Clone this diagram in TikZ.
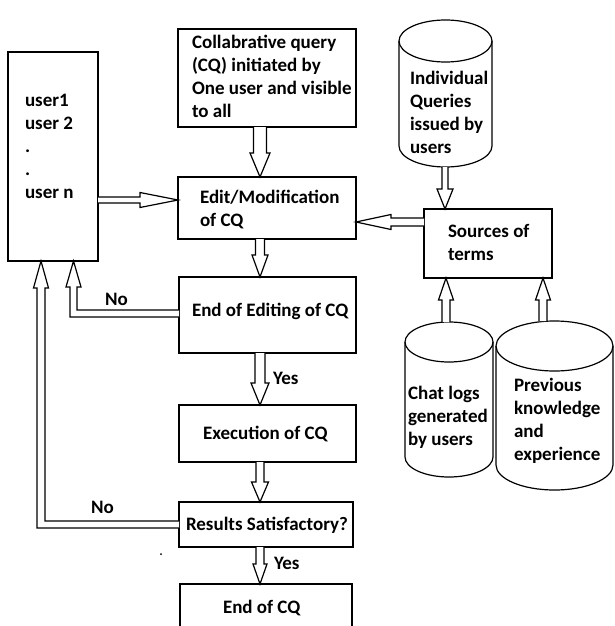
\documentclass[tikz,border=0pt]{standalone}
\usepackage{fontspec}
\setmainfont{Carlito}
\usetikzlibrary{calc}
\newcommand\fs{\fontsize{19}{23}\selectfont\bfseries}
\newcommand\firstl{\rule{0pt}{14pt}}
% block arrow from coordinate #1 to coordinate #2; #3 shaft half width, #4 head half width, #5 head length
\newcommand\barrow[5]{%
  \path ($(#2)!#5!(#1)$) coordinate (hb);
  \draw[arr] ($(#1)!#3!90:(#2)$) -- ($(hb)!#3!-90:(#1)$) -- ($(hb)!#4!-90:(#1)$) -- (#2)
     -- ($(hb)!#4!90:(#1)$) -- ($(hb)!#3!90:(#1)$) -- ($(#1)!#3!-90:(#2)$);
}
\newcommand\cylout[3]{%
  \draw[boxline] ($(#1.north west)+(0,#3)$) -- ($(#1.south west)+(0,-#3)$)
     arc[start angle=180,end angle=360,x radius=#2pt,y radius=#3pt] -- ($(#1.north east)+(0,#3)$);
  \draw[boxline] ($(#1.north)+(0,#3)$) ellipse[x radius=#2pt,y radius=#3pt];
}
\begin{document}
\begin{tikzpicture}[x=1pt,y=-1pt,
  boxline/.style={line width=1.2pt,line join=miter},
  box/.style={draw,boxline,rectangle,inner sep=0pt,outer sep=0pt},
  slot/.style={rectangle,inner sep=0pt,outer sep=0pt},
  arr/.style={draw,line width=1.2pt,line join=miter,fill=white},
  txt/.style={anchor=north west,inner sep=0pt,outer sep=0pt,align=left,font=\fs}]
\useasboundingbox (0,0) rectangle (614,626);

% boxes
\node[box,minimum width=90pt,minimum height=209pt] (users) at (53,156.5) {};
\node[box,minimum width=178pt,minimum height=98pt] (cq) at (267,78) {};
\node[box,minimum width=178pt,minimum height=62pt] (edit) at (267,208) {};
\node[box,minimum width=177pt,minimum height=76pt] (ee) at (267.5,315) {};
\node[box,minimum width=177pt,minimum height=57pt] (exec) at (267.5,433.5) {};
\node[box,minimum width=174pt,minimum height=45pt] (res) at (266,524.5) {};
\node[box,minimum width=172pt,minimum height=56pt] (end) at (266,612) {};
\node[box,minimum width=128pt,minimum height=69pt] (src) at (488,243.5) {};
% cylinders
\node[slot,minimum width=93pt,minimum height=147pt] (iq) at (445.5,93.5) {};
\node[slot,minimum width=88pt,minimum height=155pt] (chat) at (449,399.5) {};
\node[slot,minimum width=117pt,minimum height=169pt] (prev) at (554.5,405.5) {};
\cylout{iq}{46.5}{21}
\cylout{chat}{44}{20}
\cylout{prev}{58.5}{25}

% texts
\node[txt] (tusers) at (25,92) {\firstl user1\\user 2\\.\\.\\user n};
\node[txt] (tcq) at (192,34) {\firstl Collabrative query\\(CQ) initiated by\\One user and visible\\to all};
\node[txt] (tedit) at (200,189) {\firstl Edit/Modification\\of CQ};
\node[txt] (tee) at (192,302) {\firstl End of Editing of CQ};
\node[txt] (texec) at (203,425) {\firstl Execution of CQ};
\node[txt] (tres) at (186,516) {\firstl Results Satisfactory?};
\node[txt] (tend) at (223,599) {\firstl End of CQ};
\node[txt] (tsrc) at (448,223) {\firstl Sources of\\terms};
\node[txt] (tiq) at (410,70) {\firstl Individual\\Queries\\issued by\\users};
\node[txt] (tchat) at (408,385) {\firstl Chat logs\\generated\\by users};
\node[txt] (tprev) at (514,377) {\firstl Previous\\knowledge\\and\\experience};
\node[txt] (yes1) at (273,370) {\firstl Yes};
\node[txt] (yes2) at (274,555) {\firstl Yes};
\node[txt] (no1) at (105,291) {\firstl No};
\node[txt] (no2) at (91,499) {\firstl No};

% helper coordinates
\coordinate (ax) at (260,0);
\coordinate (ay) at (0,200);
\coordinate (by) at (0,222);
\coordinate (bx) at (445,0);
\coordinate (cx) at (446,0);
\coordinate (dx) at (543,0);

% main flow arrows
\coordinate (a1s) at (cq.south -| ax);   \coordinate (a1e) at (edit.north -| ax);
\barrow{a1s}{a1e}{6.5pt}{10pt}{24pt}
\coordinate (a2s) at (edit.south -| ax); \coordinate (a2e) at (ee.north -| ax);
\barrow{a2s}{a2e}{4.5pt}{8pt}{22pt}
\coordinate (a3s) at (ee.south -| ax);   \coordinate (a3e) at (exec.north -| ax);
\barrow{a3s}{a3e}{5pt}{9pt}{22pt}
\coordinate (a4s) at (exec.south -| ax); \coordinate (a4e) at (res.north -| ax);
\barrow{a4s}{a4e}{4pt}{8.5pt}{20pt}
\coordinate (a5s) at (res.south -| ax);  \coordinate (a5e) at (end.north -| ax);
\barrow{a5s}{a5e}{4pt}{7pt}{20pt}
\coordinate (a6s) at (users.east |- ay); \coordinate (a6e) at (edit.west |- ay);
\barrow{a6s}{a6e}{3pt}{7.5pt}{38pt}
\coordinate (a7s) at (src.west |- by);   \coordinate (a7e) at (edit.east |- by);
\barrow{a7s}{a7e}{4pt}{7.5pt}{35pt}
\coordinate (a8s) at (iq.south -| bx);   \coordinate (a8e) at (src.north -| bx);
\barrow{a8s}{a8e}{3pt}{8pt}{20pt}
\coordinate (a9s) at (chat.north -| cx); \coordinate (a9e) at (src.south -| cx);
\barrow{a9s}{a9e}{4pt}{7.5pt}{22pt}
\coordinate (a10s) at (prev.north -| dx); \coordinate (a10e) at (src.south -| dx);
\barrow{a10s}{a10e}{4pt}{7.5pt}{22pt}

% "No" feedback arrows
\coordinate (n1c) at (73.5,313.5);
\coordinate (n1t) at (n1c |- users.south);
\draw[arr] ($(ee.west)+(0,-5)$) -- ($(n1c)+(3.5,-3.5)$) -- ($(n1t)+(3.5,26)$) -- ($(n1t)+(7.5,26)$)
   -- (n1t) -- ($(n1t)+(-7.5,26)$) -- ($(n1t)+(-3.5,26)$) -- ($(n1c)+(-3.5,3.5)$) -- ($(ee.west)+(0,2)$);
\coordinate (n2c) at (41,524.5);
\coordinate (n2t) at (n2c |- users.south);
\draw[arr] ($(res.west)+(0,-3.5)$) -- ($(n2c)+(4,-3.5)$) -- ($(n2t)+(4,27)$) -- ($(n2t)+(7.5,27)$)
   -- (n2t) -- ($(n2t)+(-7.5,27)$) -- ($(n2t)+(-4,27)$) -- ($(n2c)+(-4,3.5)$) -- ($(res.west)+(0,3.5)$);

% speck
\fill (161,554) circle (1pt);
\end{tikzpicture}
\end{document}
